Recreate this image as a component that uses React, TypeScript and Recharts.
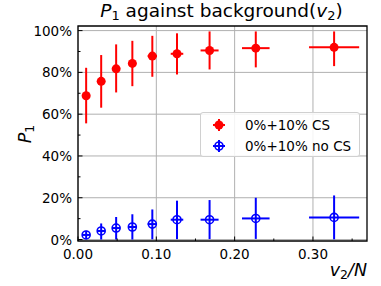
import React from 'react'
import { ScatterChart, Scatter, XAxis, YAxis, CartesianGrid, ErrorBar, ReferenceArea, Legend } from 'recharts'

// bin centres along v2/N and their half widths
const V2_BINS = [0.0104, 0.0296, 0.0487, 0.0694, 0.0949, 0.1264, 0.168, 0.227, 0.327]
const V2_ERR = [0.005, 0.005, 0.005, 0.005, 0.006, 0.008, 0.0115, 0.0176, 0.032]

// 0%+10% CS
const CS_P1 = [68.8, 75.7, 81.7, 84.3, 87.8, 88.9, 90.5, 91.6, 92.0]
const CS_LOW = [13.2, 12.6, 11.3, 10.9, 9.9, 9.9, 9.1, 9.2, 9.0]
const CS_HIGH = [13.4, 12.6, 11.7, 10.8, 9.7, 9.8, 9.1, 8.0, 7.6]

// 0%+10% no CS
const NOCS_P1 = [2.2, 4.1, 5.5, 6.0, 7.4, 9.5, 9.5, 10.1, 10.6]
const NOCS_LOW = [2.0, 4.1, 5.5, 6.0, 7.3, 9.3, 9.3, 9.8, 10.5]
const NOCS_HIGH = [2.0, 3.6, 5.3, 6.1, 7.0, 9.1, 9.4, 9.9, 10.5]

const X_TICKS = [0, 0.05, 0.1, 0.15, 0.2, 0.25, 0.3, 0.35]
const X_MAJOR = [0, 0.1, 0.2, 0.3]
const Y_TICKS = [0, 10, 20, 30, 40, 50, 60, 70, 80, 90, 100]
const Y_MAJOR = [0, 20, 40, 60, 80, 100]

const X_DOMAIN: [number, number] = [0, 0.369]
const Y_DOMAIN: [number, number] = [-0.7, 102.2]

const RED = '#ff0000'
const BLUE = '#0000ff'
const FONT = '"DejaVu Sans", sans-serif'

const csData = V2_BINS.map((x, i) => ({ x, y: CS_P1[i], xErr: V2_ERR[i], yErr: [CS_LOW[i], CS_HIGH[i]] }))
const noCsData = V2_BINS.map((x, i) => ({ x, y: NOCS_P1[i], xErr: V2_ERR[i], yErr: [NOCS_LOW[i], NOCS_HIGH[i]] }))

const isMajor = (list: number[], v: number) => list.some((m) => Math.abs(m - v) < 1e-9)

function XTick(props: any) {
  const { x, y, payload } = props
  const major = isMajor(X_MAJOR, payload.value)
  return (
    <g>
      <line x1={x} x2={x} y1={y} y2={y - (major ? 4.5 : 2.5)} stroke="#000" strokeWidth={1} />
      {major && (
        <text x={x} y={y + 18} textAnchor="middle" fontSize={13.5} fontFamily={FONT} fill="#000">
          {payload.value.toFixed(2)}
        </text>
      )}
    </g>
  )
}

function YTick(props: any) {
  const { x, y, payload } = props
  const major = isMajor(Y_MAJOR, payload.value)
  return (
    <g>
      <line x1={x} x2={x + (major ? 4.5 : 2.5)} y1={y} y2={y} stroke="#000" strokeWidth={1} />
      {major && (
        <text x={x - 6} y={y + 5} textAnchor="end" fontSize={13.5} fontFamily={FONT} fill="#000">
          {payload.value}%
        </text>
      )}
    </g>
  )
}

const redDot = (p: any) => <circle cx={p.cx} cy={p.cy} r={4.5} fill={RED} />
const blueDot = (p: any) => <circle cx={p.cx} cy={p.cy} r={4} fill="none" stroke={BLUE} strokeWidth={1.6} />

function LegendMark({ color, open }: { color: string; open: boolean }) {
  return (
    <svg width={16} height={16} style={{ position: 'absolute', left: 10, top: -8 }}>
      <line x1={2} x2={14} y1={8} y2={8} stroke={color} strokeWidth={2} />
      <line x1={8} x2={8} y1={2} y2={14} stroke={color} strokeWidth={2} />
      {open
        ? <circle cx={8} cy={8} r={4} fill="none" stroke={color} strokeWidth={1.6} />
        : <circle cx={8} cy={8} r={4.5} fill={color} />}
    </svg>
  )
}

function LegendBox() {
  const rows = [
    { label: '0%+10% CS', color: RED, open: false, top: 12 },
    { label: '0%+10% no CS', color: BLUE, open: true, top: 33 },
  ]
  return (
    <div
      style={{
        position: 'relative', width: 160, height: 45, boxSizing: 'border-box',
        border: '1px solid #d0d0d0', borderRadius: 3, background: 'rgba(255,255,255,0.85)',
        fontFamily: FONT, fontSize: 13.5, color: '#000',
      }}
    >
      {rows.map((r) => (
        <div key={r.label} style={{ position: 'absolute', left: 0, top: r.top, width: '100%' }}>
          <LegendMark color={r.color} open={r.open} />
          <span style={{ position: 'absolute', left: 44, top: -9, lineHeight: '18px', whiteSpace: 'nowrap' }}>{r.label}</span>
        </div>
      ))}
    </div>
  )
}

export default function App() {
  return (
    <div style={{ position: 'absolute', left: 0, top: 0, width: 381, height: 286, background: '#fff' }}>
      <ScatterChart width={381} height={286} margin={{ top: 26, right: 14, bottom: 0, left: 0 }}>
        <CartesianGrid
          stroke="#b0b0b0"
          strokeWidth={1}
          horizontalValues={Y_MAJOR}
          verticalValues={X_MAJOR}
        />
        <XAxis
          type="number"
          dataKey="x"
          domain={X_DOMAIN}
          allowDataOverflow
          ticks={X_TICKS}
          interval={0}
          tick={<XTick />}
          tickLine={false}
          axisLine={false}
          tickSize={0}
          tickMargin={0}
          height={45}
        />
        <YAxis
          type="number"
          dataKey="y"
          domain={Y_DOMAIN}
          allowDataOverflow
          ticks={Y_TICKS}
          interval={0}
          tick={<YTick />}
          tickLine={false}
          axisLine={false}
          tickSize={0}
          tickMargin={0}
          width={78}
        />
        <ReferenceArea
          x1={X_DOMAIN[0]}
          x2={X_DOMAIN[1]}
          y1={Y_DOMAIN[0]}
          y2={Y_DOMAIN[1]}
          fill="none"
          stroke="#000"
          strokeWidth={1.3}
          ifOverflow="visible"
        />
        <Scatter name="0%+10% CS" data={csData} shape={redDot} isAnimationActive={false}>
          <ErrorBar dataKey="yErr" direction="y" width={0} stroke={RED} strokeWidth={2} isAnimationActive={false} />
          <ErrorBar dataKey="xErr" direction="x" width={0} stroke={RED} strokeWidth={2} isAnimationActive={false} />
        </Scatter>
        <Scatter name="0%+10% no CS" data={noCsData} shape={blueDot} isAnimationActive={false}>
          <ErrorBar dataKey="yErr" direction="y" width={0} stroke={BLUE} strokeWidth={2} isAnimationActive={false} />
          <ErrorBar dataKey="xErr" direction="x" width={0} stroke={BLUE} strokeWidth={2} isAnimationActive={false} />
        </Scatter>
        <Legend
          layout="vertical"
          align="center"
          verticalAlign="middle"
          wrapperStyle={{ left: 200, top: 112, width: 160, height: 45 }}
          content={() => <LegendBox />}
        />
      </ScatterChart>
      <svg
        width={381}
        height={286}
        style={{ position: 'absolute', left: 0, top: 0, pointerEvents: 'none' }}
        fontFamily={FONT}
      >
        <text x={221.5} y={17} textAnchor="middle" fontSize={18.5} fill="#000">
          <tspan fontStyle="italic">P</tspan>
          <tspan fontSize={13} dy={3}>1</tspan>
          <tspan dy={-3}>{' against background('}</tspan>
          <tspan fontStyle="italic">v</tspan>
          <tspan fontSize={13} dy={3}>2</tspan>
          <tspan dy={-3}>)</tspan>
        </text>
        <text transform="translate(31,134) rotate(-90)" textAnchor="middle" fontSize={17.5} fill="#000">
          <tspan fontStyle="italic">P</tspan>
          <tspan fontSize={12.5} dy={3}>1</tspan>
        </text>
        <text x={367} y={276} textAnchor="end" fontSize={17.5} fill="#000">
          <tspan fontStyle="italic">v</tspan>
          <tspan fontSize={12.5} dy={3}>2</tspan>
          <tspan dy={-3} fontStyle="italic">/N</tspan>
        </text>
      </svg>
    </div>
  )
}
